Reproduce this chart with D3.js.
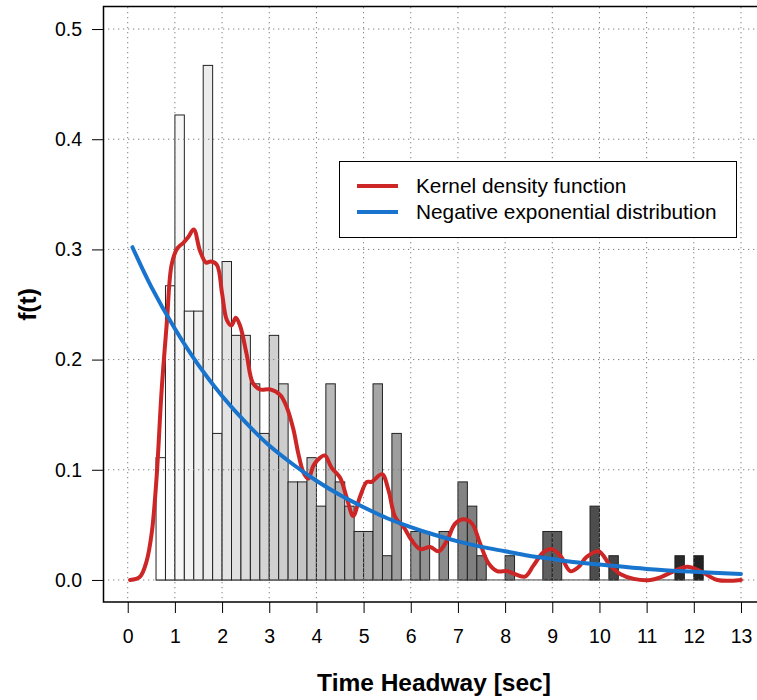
<!DOCTYPE html>
<meta charset="utf-8">
<style>
  body { margin: 0; background: #fff; }
  svg { font-family: "Liberation Sans", Arial, sans-serif; }
  .grid line { stroke: #808080; stroke-width: 1px; stroke-dasharray: 1.3,3.7; }
  .bar { stroke: #222; stroke-width: 1px; }
  .kde { fill: none; stroke: #cd2626; stroke-width: 4px; stroke-linejoin: round; stroke-linecap: round; }
  .dexp { fill: none; stroke: #1874cd; stroke-width: 4px; stroke-linecap: round; }
  .tick-label { font-size: 19.5px; fill: #000; }
  .axis-title { font-size: 24.5px; font-weight: bold; fill: #000; }
  .legend-text { font-size: 20.8px; fill: #000; }
</style>
<svg width="757" height="700"></svg>
<script src="https://d3js.org/d3.v7.min.js"></script>
<script>
  // histogram of time headways (density, bin width 0.2 s), empty bins left out
  var binWidth = 0.2;
  var binLeft = [0.6, 0.8, 1.0, 1.2, 1.4, 1.6, 1.8, 2.0, 2.2, 2.4, 2.6, 2.8, 3.0, 3.2, 3.4, 3.6, 3.8, 4.0,
    4.2, 4.4, 4.6, 4.8, 5.0, 5.2, 5.4, 5.6, 6.0, 6.2, 6.6, 7.0, 7.2, 7.4, 8.0, 8.8, 9.0, 9.8, 10.2, 11.6, 12.0];
  var binDensity = [0.111, 0.267, 0.422, 0.244, 0.244, 0.467, 0.133, 0.289, 0.222, 0.222, 0.178, 0.133, 0.222,
    0.178, 0.089, 0.089, 0.111, 0.067, 0.178, 0.089, 0.067, 0.044, 0.044, 0.178, 0.022, 0.133, 0.044, 0.044,
    0.044, 0.089, 0.067, 0.022, 0.022, 0.044, 0.044, 0.067, 0.022, 0.022, 0.022];

  // kernel density curve
  var kdeT = [0.05, 0.26, 0.4, 0.51, 0.61, 0.72, 0.83, 0.93, 1.05, 1.18, 1.28, 1.4, 1.53, 1.66, 1.76, 1.89,
    2.0, 2.1, 2.2, 2.29, 2.38, 2.52, 2.65, 2.8, 3.02, 3.23, 3.37, 3.51, 3.62, 3.73, 3.83, 3.94, 4.08, 4.18,
    4.32, 4.5, 4.64, 4.78, 4.92, 5.07, 5.17, 5.39, 5.53, 5.67, 5.85, 6.02, 6.2, 6.41, 6.59, 6.77, 6.94,
    7.12, 7.3, 7.47, 7.65, 7.83, 8.04, 8.17, 8.42, 8.6, 8.81, 8.99, 9.17, 9.38, 9.55, 9.73, 9.98, 10.23,
    10.44, 10.73, 11.08, 11.29, 11.58, 11.86, 12.14, 12.5, 13.0];
  var kdeF = [0.0, 0.003, 0.017, 0.043, 0.092, 0.173, 0.234, 0.286, 0.301, 0.306, 0.311, 0.318, 0.299, 0.288,
    0.289, 0.286, 0.26, 0.236, 0.231, 0.238, 0.231, 0.205, 0.179, 0.173, 0.173, 0.168, 0.157, 0.137, 0.114,
    0.097, 0.092, 0.104, 0.111, 0.113, 0.102, 0.093, 0.075, 0.058, 0.075, 0.089, 0.089, 0.096, 0.081, 0.057,
    0.048, 0.036, 0.028, 0.03, 0.026, 0.036, 0.051, 0.055, 0.051, 0.033, 0.015, 0.008, 0.008, 0.006, 0.003,
    0.013, 0.025, 0.028, 0.022, 0.008, 0.0115, 0.021, 0.026, 0.013, 0.0055, 0.001, 0.0, 0.0024, 0.008,
    0.012, 0.008, 0.0, 0.0];

  // negative exponential fit
  var expT = [0.1, 0.5, 1, 1.5, 2, 2.5, 3, 3.5, 4, 4.5, 5, 5.5, 6, 6.5, 7, 7.5, 8, 8.5, 9, 9.5, 10, 11, 12, 13];
  var expF = [0.302, 0.266, 0.228, 0.195, 0.167, 0.143, 0.122, 0.105, 0.09, 0.077, 0.066, 0.056, 0.048,
    0.041, 0.035, 0.030, 0.026, 0.022, 0.019, 0.016, 0.014, 0.010, 0.0074, 0.0054];

  var xTicks = [0, 1, 2, 3, 4, 5, 6, 7, 8, 9, 10, 11, 12, 13];
  var yTicks = [0, 0.1, 0.2, 0.3, 0.4, 0.5];
  var legendLabels = ["Kernel density function", "Negative exponential distribution"];

  var svg = d3.select("svg");

  var x = d3.scaleLinear().domain([-0.52, 13.52]).range([103.2, 765.5]);
  var y = d3.scaleLinear().domain([-0.02, 0.52]).range([602, 7]);

  var shade = d3.scaleLinear().domain([0.6, 12.0]).range(["#ffffff", "#222222"]);

  // baseline under the empty bins
  svg.append("line")
    .attr("x1", x(binLeft[0])).attr("x2", x(binLeft[binLeft.length - 1] + binWidth))
    .attr("y1", y(0)).attr("y2", y(0))
    .attr("stroke", "#444").attr("stroke-width", 1);

  svg.append("g").selectAll("rect")
    .data(binLeft)
    .enter().append("rect")
    .attr("class", "bar")
    .attr("x", function(d) { return x(d); })
    .attr("width", function(d) { return x(d + binWidth) - x(d); })
    .attr("y", function(d, i) { return y(binDensity[i]); })
    .attr("height", function(d, i) { return y(0) - y(binDensity[i]); })
    .attr("fill", function(d) { return shade(d); });

  // dotted grid, drawn over the bars
  var grid = svg.append("g").attr("class", "grid");
  grid.selectAll(".gx").data(xTicks).enter().append("line")
    .attr("x1", function(d) { return x(d); }).attr("x2", function(d) { return x(d); })
    .attr("y1", 7).attr("y2", 602);
  grid.selectAll(".gy").data(yTicks).enter().append("line")
    .attr("y1", function(d) { return y(d); }).attr("y2", function(d) { return y(d); })
    .attr("x1", 103).attr("x2", 766);

  var line = d3.line().curve(d3.curveCatmullRom.alpha(0.5));

  svg.append("path")
    .attr("class", "kde")
    .attr("d", line(kdeT.map(function(t, i) { return [x(t), y(kdeF[i])]; })));

  svg.append("path")
    .attr("class", "dexp")
    .attr("d", line(expT.map(function(t, i) { return [x(t), y(expF[i])]; })));

  // plot box
  svg.append("rect")
    .attr("x", 103.5).attr("y", 6.5).attr("width", 700).attr("height", 595.5)
    .attr("fill", "none").attr("stroke", "#000").attr("stroke-width", 1.5);

  // axes
  var xAxis = svg.append("g").attr("transform", "translate(0,602)")
    .call(d3.axisBottom(x).tickValues(xTicks).tickSize(11).tickPadding(12).tickFormat(d3.format("d")));
  var yAxis = svg.append("g").attr("transform", "translate(103,0)")
    .call(d3.axisLeft(y).tickValues(yTicks).tickSize(11).tickPadding(10).tickFormat(d3.format(".1f")));
  [xAxis, yAxis].forEach(function(a) {
    a.select(".domain").remove();
    a.selectAll(".tick line").attr("stroke", "#000");
    a.selectAll(".tick text").attr("class", "tick-label").attr("font-family", null).attr("font-size", null);
  });
  xAxis.selectAll(".tick text").attr("dy", "0.9em");

  svg.append("text").attr("class", "axis-title")
    .attr("x", 434).attr("y", 691).attr("text-anchor", "middle")
    .text("Time Headway [sec]");
  svg.append("text").attr("class", "axis-title")
    .attr("transform", "translate(36,304.5) rotate(-90)").attr("text-anchor", "middle")
    .text("f(t)");

  // legend
  var legend = svg.append("g");
  legend.append("rect")
    .attr("x", 339.5).attr("y", 161.5).attr("width", 397).attr("height", 76)
    .attr("fill", "#fff").attr("stroke", "#000").attr("stroke-width", 1);
  var colors = ["#cd2626", "#1874cd"];
  legendLabels.forEach(function(label, i) {
    var ly = 186 + i * 26;
    legend.append("line")
      .attr("x1", 357).attr("x2", 398).attr("y1", ly).attr("y2", ly)
      .attr("stroke", colors[i]).attr("stroke-width", 4);
    legend.append("text").attr("class", "legend-text")
      .attr("x", 416).attr("y", ly).attr("dy", "0.35em")
      .text(label);
  });
</script>
